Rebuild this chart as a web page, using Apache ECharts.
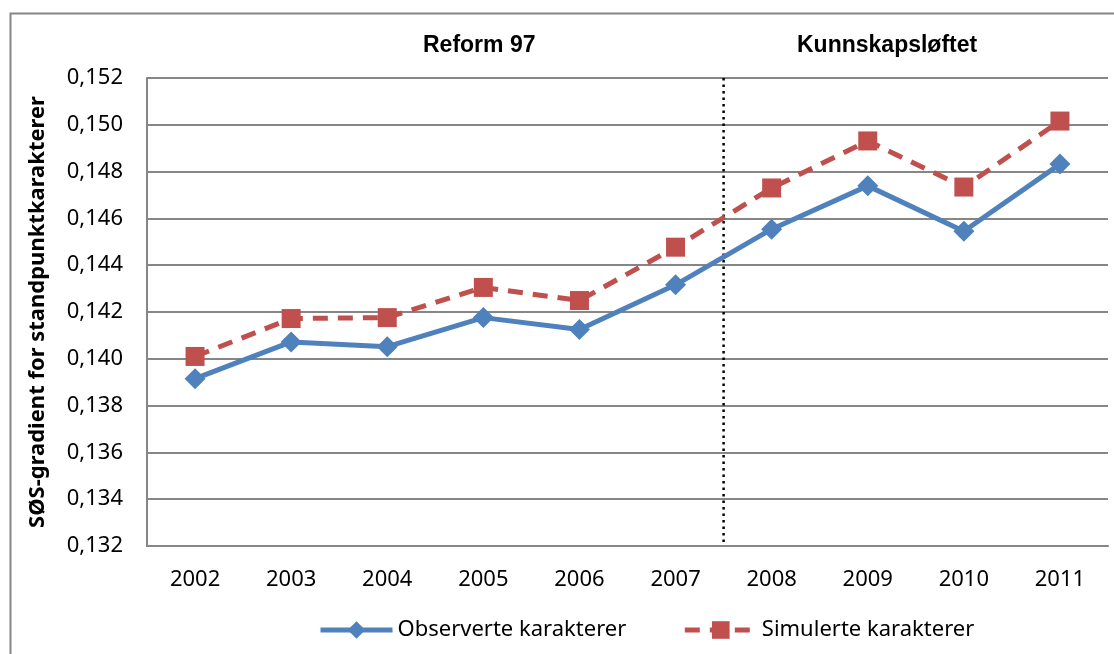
<!DOCTYPE html>
<html>
<head>
<meta charset="utf-8">
<title>SØS-gradient</title>
<script src="https://cdn.jsdelivr.net/npm/echarts@6/dist/echarts.min.js"></script>
<style>
	html, body { margin: 0; padding: 0; background: #fff; }
	#chart { width: 1114px; height: 654px; }
</style>
</head>
<body>
<div id="chart"></div>
<script>
// data
const years = ['2002', '2003', '2004', '2005', '2006', '2007', '2008', '2009', '2010', '2011'];
const observed = [0.13915, 0.14072, 0.14052, 0.14176, 0.14125, 0.14316, 0.14554, 0.14739, 0.14545, 0.14832];
const simulated = [0.14010, 0.14172, 0.14176, 0.14305, 0.14249, 0.14477, 0.14730, 0.14931, 0.14734, 0.15016];
const seriesNames = ['Observerte karakterer', 'Simulerte karakterer'];
const periodNames = ['Reform 97', 'Kunnskapsløftet'];
const yMin = 0.132, yMax = 0.152, yStep = 0.002;
const reformSplit = 6; // boundary between 2007 and 2008 on a 0..10 scale

const labelFont = 'Noto Sans';
const gridColor = '#868686';

function renderChart(){
	let myChart = echarts.init(document.getElementById('chart'));
	let periodStyle = {fontFamily: 'Liberation Sans', fontWeight: 'bold', fontSize: 23, color: '#000'};
	let option = {
		animation: false,
		backgroundColor: '#fff',
		title: [
			{text: periodNames[0], left: 418, top: 29, textStyle: periodStyle},
			{text: periodNames[1], left: 792, top: 29, textStyle: periodStyle}
		],
		graphic: [
			{
				// outer chart frame
				type: 'rect',
				left: 8, top: 11, z: -1,
				shape: {width: 1200, height: 700},
				style: {fill: 'none', stroke: gridColor, lineWidth: 2}
			}
		],
		legend: {
			left: 313,
			top: 614,
			itemWidth: 72,
			itemHeight: 22,
			itemGap: 56,
			data: seriesNames,
			lineStyle: {width: 5},
			textStyle: {fontFamily: labelFont, fontSize: 22, color: '#000'}
		},
		grid: {
			left: 147,
			right: 6,
			top: 78,
			bottom: 108
		},
		xAxis: [
			{
				type: 'category',
				data: years,
				boundaryGap: true,
				axisTick: {show: false},
				axisLine: {show: true, lineStyle: {color: gridColor, width: 2}},
				axisLabel: {margin: 23, color: '#000', fontFamily: labelFont, fontSize: 22}
			},
			{
				// hidden helper axis for the dotted reform divider
				type: 'value',
				min: 0,
				max: years.length,
				show: false
			}
		],
		yAxis: {
			type: 'value',
			min: yMin,
			max: yMax,
			interval: yStep,
			name: 'SØS-gradient for standpunktkarakterer',
			nameLocation: 'middle',
			nameGap: 98,
			nameTextStyle: {fontFamily: labelFont, fontWeight: 'bold', fontSize: 22, color: '#000'},
			axisLine: {show: true, lineStyle: {color: gridColor, width: 2}},
			axisTick: {show: false},
			splitLine: {show: true, lineStyle: {color: gridColor, width: 2}},
			axisLabel: {
				margin: 24,
				color: '#000',
				fontFamily: labelFont,
				fontSize: 22,
				formatter: function(v){ return v.toFixed(3).replace('.', ','); }
			}
		},
		series: [
			{
				name: seriesNames[0],
				type: 'line',
				data: observed,
				symbol: 'diamond',
				symbolSize: 21,
				itemStyle: {color: '#4F81BD'},
				lineStyle: {color: '#4F81BD', width: 5},
				z: 3
			},
			{
				name: seriesNames[1],
				type: 'line',
				data: simulated,
				symbol: 'rect',
				symbolSize: 19,
				itemStyle: {color: '#C0504D'},
				lineStyle: {color: '#C0504D', width: 5, type: [15, 10]},
				z: 2
			},
			{
				name: 'divider',
				type: 'line',
				xAxisIndex: 1,
				data: [[reformSplit, yMax], [reformSplit, yMin]],
				symbol: 'none',
				silent: true,
				lineStyle: {color: '#000', width: 2.5, type: [2.5, 4]},
				z: 1
			}
		]
	};
	myChart.setOption(option);
}

renderChart();
</script>
</body>
</html>
